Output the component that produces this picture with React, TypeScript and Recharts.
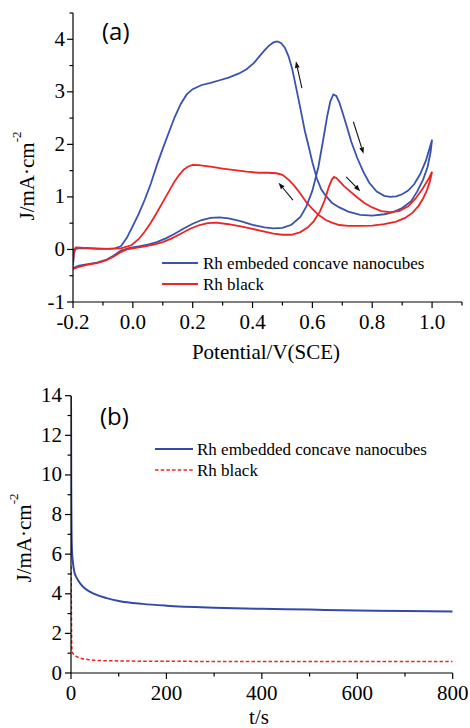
import React from 'react';
import { LineChart, Line, XAxis, YAxis, Legend, ReferenceLine } from 'recharts';

const SERIF = '"Liberation Serif", "Times New Roman", serif';
const SANS = '"Open Sans", sans-serif';
const BLUE = '#3a52ad';
const RED = '#ee2424';
const BLUE2 = '#3549a8';

// ---------- (a) cyclic voltammetry: forward scan then reverse scan ----------
const nanoV = [
  -0.2, -0.18, -0.15, -0.12, -0.09, -0.065, -0.04, -0.01, 0.02, 0.05, 0.08, 0.11, 0.14, 0.17, 0.2, 0.23, 0.26, 0.29,
  0.32, 0.36, 0.4, 0.44, 0.47, 0.5, 0.53, 0.56, 0.58, 0.6, 0.62, 0.635, 0.65, 0.66, 0.67, 0.68, 0.69, 0.7, 0.715,
  0.73, 0.75, 0.77, 0.79, 0.815, 0.84, 0.86, 0.88, 0.9, 0.92, 0.94, 0.96, 0.98, 1.0,
  0.995, 0.985, 0.97, 0.95, 0.93, 0.9, 0.87, 0.84, 0.8, 0.76, 0.72, 0.69, 0.665, 0.645, 0.63, 0.615, 0.6, 0.588,
  0.575, 0.56, 0.545, 0.532, 0.52, 0.508, 0.495, 0.482, 0.47, 0.455, 0.44, 0.425, 0.405, 0.38, 0.355, 0.32, 0.29,
  0.26, 0.23, 0.2, 0.18, 0.16, 0.14, 0.12, 0.1, 0.08, 0.06, 0.04, 0.02, 0.0, -0.02, -0.04, -0.06, -0.09, -0.12,
  -0.15, -0.18, -0.192, -0.197, -0.2,
];
const nanoJ = [
  -0.35, -0.31, -0.28, -0.25, -0.2, -0.12, -0.02, 0.03, 0.06, 0.09, 0.14, 0.21, 0.3, 0.4, 0.49, 0.56, 0.6, 0.61,
  0.59, 0.54, 0.47, 0.42, 0.4, 0.41, 0.47, 0.62, 0.82, 1.12, 1.57, 2.05, 2.55, 2.82, 2.95, 2.92, 2.8, 2.62, 2.34,
  2.05, 1.74, 1.48, 1.27, 1.1, 1.02, 1.0, 1.01, 1.05, 1.12, 1.24, 1.43, 1.7, 2.09,
  1.85, 1.57, 1.33, 1.1, 0.92, 0.79, 0.71, 0.67, 0.645, 0.66, 0.72, 0.8, 0.89, 1.02, 1.14, 1.35, 1.66, 1.95,
  2.25, 2.68, 3.1, 3.45, 3.68, 3.84, 3.93, 3.96, 3.94, 3.88, 3.79, 3.69, 3.55, 3.43, 3.35, 3.27, 3.22,
  3.17, 3.13, 3.05, 2.95, 2.77, 2.52, 2.22, 1.92, 1.6, 1.25, 0.95, 0.68, 0.45, 0.22, 0.06, 0.02, 0.01, 0.01,
  0.02, 0.02, 0.01, -0.08, -0.3,
];
const blackV = [
  -0.2, -0.18, -0.15, -0.12, -0.09, -0.065, -0.04, -0.02, 0.01, 0.04, 0.07, 0.1, 0.13, 0.16, 0.19, 0.22, 0.25, 0.28,
  0.32, 0.36, 0.4, 0.44, 0.47, 0.5, 0.53, 0.56, 0.585, 0.605, 0.625, 0.64, 0.655, 0.665, 0.672, 0.68, 0.69, 0.705,
  0.725, 0.75, 0.775, 0.8, 0.83, 0.86, 0.89, 0.92, 0.945, 0.97, 0.99, 1.0,
  0.993, 0.983, 0.97, 0.955, 0.935, 0.91, 0.88, 0.84, 0.8, 0.76, 0.72, 0.69, 0.665, 0.645, 0.62, 0.6, 0.58, 0.56,
  0.54, 0.52, 0.5, 0.48, 0.45, 0.42, 0.38, 0.34, 0.3, 0.26, 0.22, 0.2, 0.185, 0.17, 0.155, 0.14, 0.12, 0.1, 0.08,
  0.06, 0.04, 0.02, -0.005, -0.04, -0.08, -0.12, -0.16, -0.19, -0.197, -0.2,
];
const blackJ = [
  -0.37, -0.33, -0.29, -0.26, -0.21, -0.14, -0.05, 0.0, 0.03, 0.06, 0.09, 0.14, 0.21, 0.3, 0.39, 0.46, 0.5, 0.51,
  0.48, 0.44, 0.39, 0.34, 0.3, 0.28, 0.28, 0.33, 0.42, 0.54, 0.72, 0.92, 1.19, 1.33, 1.38, 1.36, 1.3, 1.21,
  1.11, 0.99, 0.88, 0.8, 0.73, 0.71, 0.73, 0.82, 0.97, 1.17, 1.36, 1.48,
  1.3, 1.13, 0.97, 0.83, 0.7, 0.6, 0.53, 0.48, 0.455, 0.45, 0.45, 0.465, 0.51, 0.56, 0.66, 0.77, 0.9, 1.06,
  1.21, 1.33, 1.42, 1.45, 1.46, 1.46, 1.48, 1.51, 1.54, 1.575, 1.605, 1.61, 1.58, 1.52, 1.42, 1.3, 1.1, 0.9, 0.7,
  0.51, 0.34, 0.2, 0.08, 0.02, 0.01, 0.02, 0.03, 0.04, 0.0, -0.3,
];

const cvXTicks = [-0.2, -0.1, 0, 0.1, 0.2, 0.3, 0.4, 0.5, 0.6, 0.7, 0.8, 0.9, 1.0, 1.1];
const cvXLabels = ['-0.2', '', '0.0', '', '0.2', '', '0.4', '', '0.6', '', '0.8', '', '1.0', ''];
const cvYTicks = [-1, -0.5, 0, 0.5, 1, 1.5, 2, 2.5, 3, 3.5, 4, 4.5];
const cvYLabels = ['-1', '', '0', '', '1', '', '2', '', '3', '', '4', ''];

// scan-direction arrows (tail -> head, data units)
const arrowTailV = [0.565, 0.535, 0.737, 0.713];
const arrowTailJ = [3.07, 0.94, 2.43, 1.38];
const arrowHeadV = [0.545, 0.487, 0.771, 0.76];
const arrowHeadJ = [3.58, 1.27, 1.82, 1.11];

// ---------- (b) chronoamperometry ----------
const nanoT = [0, 0.5, 1, 2, 4, 7, 12, 20, 30, 50, 75, 100, 150, 200, 300, 400, 500, 600, 700, 800];
const nanoI = [14, 9.5, 7.5, 6.2, 5.6, 5.1, 4.8, 4.5, 4.25, 3.98, 3.78, 3.64, 3.49, 3.4, 3.3, 3.24, 3.2, 3.16, 3.13, 3.1];
const blackT = [0, 0.4, 0.8, 1.2, 1.6, 2.2, 5, 10, 20, 35, 60, 100, 200, 300, 400, 500, 600, 700, 800];
const blackI = [5.4, 4.8, 3.4, 2.0, 1.3, 1.1, 0.95, 0.85, 0.75, 0.68, 0.63, 0.61, 0.59, 0.585, 0.58, 0.58, 0.58, 0.58, 0.58];

const caXTicks = [0, 100, 200, 300, 400, 500, 600, 700, 800];
const caXLabels = ['0', '', '200', '', '400', '', '600', '', '800'];
const caYTicks = [0, 1, 2, 3, 4, 5, 6, 7, 8, 9, 10, 11, 12, 13, 14];
const caYLabels = ['0', '', '2', '', '4', '', '6', '', '8', '', '10', '', '12', '', '14'];

const zip = (xs: number[], ys: number[], kx: string, ky: string) =>
  xs.map((x, i) => ({ [kx]: x, [ky]: ys[i] }));

const nanoCV = zip(nanoV, nanoJ, 'v', 'j');
const blackCV = zip(blackV, blackJ, 'v', 'j');
const nanoCA = zip(nanoT, nanoI, 't', 'j');
const blackCA = zip(blackT, blackI, 't', 'j');

const TICK_SIZE = 6;
const X_MARGIN = 4;
const Y_MARGIN = 2;

const makeXTick = (ticks: number[], labels: string[]) => (props: any) => {
  const { x, y, payload } = props;
  const i = ticks.indexOf(payload.value);
  const label = i >= 0 ? labels[i] : '';
  const y0 = y - TICK_SIZE - X_MARGIN;
  const major = label !== '';
  return (
    <g>
      <line x1={x} x2={x} y1={y0} y2={y0 + (major ? 6 : 3.5)} stroke="#000" strokeWidth={1.2} />
      {major && (
        <text x={x} y={y0 + 26.5} textAnchor="middle" fontFamily={SERIF} fontSize={21} fill="#000">
          {label}
        </text>
      )}
    </g>
  );
};

const makeYTick = (ticks: number[], labels: string[], gap: number) => (props: any) => {
  const { x, y, payload } = props;
  const i = ticks.indexOf(payload.value);
  const label = i >= 0 ? labels[i] : '';
  const x0 = x + TICK_SIZE + Y_MARGIN;
  const major = label !== '';
  return (
    <g>
      <line x1={x0} x2={x0 - (major ? 6 : 3.5)} y1={y} y2={y} stroke="#000" strokeWidth={1.2} />
      {major && (
        <text x={x0 - gap} y={y + 6.5} textAnchor="end" fontFamily={SERIF} fontSize={21} fill="#000">
          {label}
        </text>
      )}
    </g>
  );
};

const YTitle = (props: any) => {
  const { tx, ty, panel, px, py } = props;
  return (
    <g>
      <text
        transform={`translate(${tx},${ty}) rotate(-90)`}
        textAnchor="middle"
        fontFamily={SERIF}
        fontSize={21}
        fill="#000"
      >
        J/mA·cm
        <tspan dy={-13} fontSize={13}>
          -2
        </tspan>
      </text>
      <text x={px} y={py} fontFamily={SANS} fontSize={24} fill="#000">
        {panel}
      </text>
    </g>
  );
};

const XTitle = (props: any) => {
  const { text, tx, ty } = props;
  return (
    <text x={tx} y={ty} textAnchor="middle" fontFamily={SERIF} fontSize={21} fill="#000">
      {text}
    </text>
  );
};

const Arrow = (props: any) => {
  const { x1, y1, x2, y2 } = props;
  const dx = x2 - x1;
  const dy = y2 - y1;
  const L = Math.hypot(dx, dy) || 1;
  const ux = dx / L;
  const uy = dy / L;
  const hl = 6.5;
  const hw = 2.4;
  const bx = x2 - ux * hl;
  const by = y2 - uy * hl;
  return (
    <g>
      <line x1={x1} y1={y1} x2={bx} y2={by} stroke="#111" strokeWidth={1.1} />
      <polygon
        points={`${x2},${y2} ${bx - uy * hw},${by + ux * hw} ${bx + uy * hw},${by - ux * hw}`}
        fill="#111"
      />
    </g>
  );
};

type Item = { name: string; color: string; width: number; dash?: string };

const LegendBox = ({ items, lineW, gap }: { items: Item[]; lineW: number; gap: number }) => (
  <div style={{ fontFamily: SERIF, fontSize: 17, color: '#000' }}>
    {items.map((it) => (
      <div
        key={it.name}
        style={{ display: 'flex', alignItems: 'center', height: 21, lineHeight: '21px', whiteSpace: 'nowrap' }}
      >
        <svg width={lineW} height={6} style={{ marginRight: gap, display: 'block' }}>
          <line x1={0} x2={lineW} y1={3} y2={3} stroke={it.color} strokeWidth={it.width} strokeDasharray={it.dash} />
        </svg>
        <span>{it.name}</span>
      </div>
    ))}
  </div>
);

const cvItems: Item[] = [
  { name: 'Rh embeded concave nanocubes', color: BLUE, width: 1.8 },
  { name: 'Rh black', color: RED, width: 1.8 },
];
const caItems: Item[] = [
  { name: 'Rh embedded concave nanocubes', color: BLUE2, width: 2 },
  { name: 'Rh black', color: RED, width: 1.5, dash: '3.5 2.2' },
];

export default function App() {
  return (
    <div style={{ position: 'absolute', left: 0, top: 0, width: 470, height: 728, background: '#fff' }}>
      <div style={{ position: 'absolute', left: 0, top: 0 }}>
        <LineChart width={470} height={365} margin={{ top: 13, right: 8, bottom: 0, left: 0 }}>
          <XAxis
            type="number"
            dataKey="v"
            domain={[-0.2, 1.1]}
            ticks={cvXTicks}
            interval={0}
            height={63}
            tickSize={TICK_SIZE}
            tickMargin={X_MARGIN}
            tickLine={false}
            tick={makeXTick(cvXTicks, cvXLabels)}
            axisLine={{ stroke: '#000', strokeWidth: 1.2 }}
            allowDataOverflow
            label={<XTitle text="Potential/V(SCE)" tx={266} ty={359} />}
          />
          <YAxis
            type="number"
            domain={[-1, 4.5]}
            ticks={cvYTicks}
            interval={0}
            width={73}
            tickSize={TICK_SIZE}
            tickMargin={Y_MARGIN}
            tickLine={false}
            tick={makeYTick(cvYTicks, cvYLabels, 8)}
            axisLine={{ stroke: '#000', strokeWidth: 1.2 }}
            allowDataOverflow
            label={<YTitle tx={34} ty={176} panel="(a)" px={102} py={40} />}
          />
          <Line data={nanoCV} dataKey="j" name="Rh embeded concave nanocubes" type="linear" stroke={BLUE}
            strokeWidth={1.8} dot={false} activeDot={false} isAnimationActive={false} />
          <Line data={blackCV} dataKey="j" name="Rh black" type="linear" stroke={RED}
            strokeWidth={1.8} dot={false} activeDot={false} isAnimationActive={false} />
          {arrowTailV.map((v, i) => (
            <ReferenceLine
              key={`arr${i}`}
              segment={[
                { x: v, y: arrowTailJ[i] },
                { x: arrowHeadV[i], y: arrowHeadJ[i] },
              ]}
              shape={Arrow}
              stroke="#111"
            />
          ))}
          <Legend
            layout="horizontal"
            verticalAlign="middle"
            align="center"
            wrapperStyle={{ left: 162, top: 252.5, width: 'auto', height: 'auto' }}
            content={() => <LegendBox items={cvItems} lineW={36} gap={5} />}
          />
        </LineChart>
      </div>
      <div style={{ position: 'absolute', left: 0, top: 365 }}>
        <LineChart width={470} height={363} margin={{ top: 30.7, right: 17.3, bottom: 0, left: 0 }}>
          <XAxis
            type="number"
            dataKey="t"
            domain={[0, 800]}
            ticks={caXTicks}
            interval={0}
            height={55}
            tickSize={TICK_SIZE}
            tickMargin={X_MARGIN}
            tickLine={false}
            tick={makeXTick(caXTicks, caXLabels)}
            axisLine={{ stroke: '#000', strokeWidth: 1.2 }}
            allowDataOverflow
            label={<XTitle text="t/s" tx={259} ty={359} />}
          />
          <YAxis
            type="number"
            domain={[0, 14]}
            ticks={caYTicks}
            interval={0}
            width={71}
            tickSize={TICK_SIZE}
            tickMargin={Y_MARGIN}
            tickLine={false}
            tick={makeYTick(caYTicks, caYLabels, 9)}
            axisLine={{ stroke: '#000', strokeWidth: 1.2 }}
            allowDataOverflow
            label={<YTitle tx={31} ty={173} panel="(b)" px={100} py={60} />}
          />
          <Line data={nanoCA} dataKey="j" name="Rh embedded concave nanocubes" type="monotone" stroke={BLUE2}
            strokeWidth={2} dot={false} activeDot={false} isAnimationActive={false} />
          <Line data={blackCA} dataKey="j" name="Rh black" type="monotone" stroke={RED} strokeWidth={1.5}
            strokeDasharray="3.5 2.2" dot={false} activeDot={false} isAnimationActive={false} />
          <Legend
            layout="horizontal"
            verticalAlign="middle"
            align="center"
            wrapperStyle={{ left: 155, top: 73.5, width: 'auto', height: 'auto' }}
            content={() => <LegendBox items={caItems} lineW={38} gap={4} />}
          />
        </LineChart>
      </div>
    </div>
  );
}
